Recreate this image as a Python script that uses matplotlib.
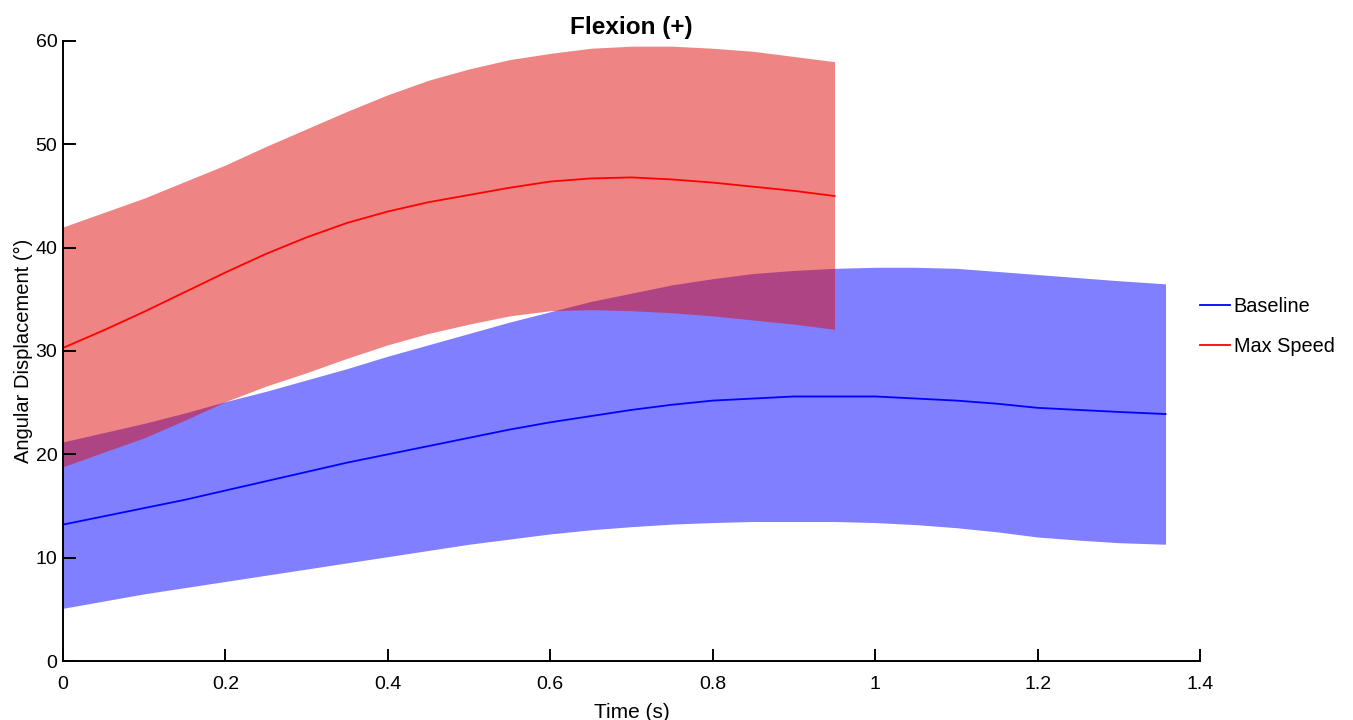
import matplotlib
matplotlib.use("Agg")
import matplotlib.pyplot as plt
from matplotlib.ticker import FuncFormatter

plt.rcParams['font.family'] = ['Liberation Sans', 'DejaVu Sans']

# Baseline series
time_base = [0.0, 0.05, 0.1, 0.15, 0.2, 0.25, 0.3, 0.35, 0.4, 0.45, 0.5, 0.55, 0.6, 0.65,
             0.7, 0.75, 0.8, 0.85, 0.9, 0.95, 1.0, 1.05, 1.1, 1.15, 1.2, 1.25, 1.3, 1.3575]
base_mean = [13.2, 14.0, 14.8, 15.6, 16.5, 17.4, 18.3, 19.2, 20.0, 20.8, 21.6, 22.4, 23.1, 23.7,
             24.3, 24.8, 25.2, 25.4, 25.6, 25.6, 25.6, 25.4, 25.2, 24.9, 24.5, 24.3, 24.1, 23.9]
base_upper = [21.2, 22.1, 23.0, 24.0, 25.1, 26.1, 27.2, 28.3, 29.5, 30.6, 31.7, 32.8, 33.8, 34.8,
              35.6, 36.4, 37.0, 37.5, 37.8, 38.0, 38.1, 38.1, 38.0, 37.7, 37.4, 37.1, 36.8, 36.5]
base_lower = [5.1, 5.8, 6.5, 7.1, 7.7, 8.3, 8.9, 9.5, 10.1, 10.7, 11.3, 11.8, 12.3, 12.7,
              13.0, 13.25, 13.4, 13.5, 13.5, 13.5, 13.4, 13.2, 12.9, 12.5, 12.0, 11.7, 11.45, 11.3]

# Max Speed series
time_max = [0.0, 0.05, 0.1, 0.15, 0.2, 0.25, 0.3, 0.35, 0.4, 0.45, 0.5, 0.55, 0.6, 0.65,
            0.7, 0.75, 0.8, 0.85, 0.9, 0.95]
max_mean = [30.3, 32.0, 33.8, 35.7, 37.6, 39.4, 41.0, 42.4, 43.5, 44.4, 45.1, 45.8, 46.4, 46.7,
            46.8, 46.6, 46.3, 45.9, 45.5, 45.0]
max_upper = [42.0, 43.4, 44.8, 46.4, 48.0, 49.8, 51.5, 53.2, 54.8, 56.2, 57.3, 58.2, 58.8, 59.3,
             59.5, 59.5, 59.3, 59.0, 58.5, 58.0]
max_lower = [18.8, 20.2, 21.6, 23.3, 25.1, 26.6, 27.9, 29.3, 30.6, 31.7, 32.6, 33.4, 33.9, 34.0,
             33.9, 33.7, 33.4, 33.0, 32.6, 32.1]

x_ticks = [0, 0.2, 0.4, 0.6, 0.8, 1.0, 1.2, 1.4]
y_ticks = [0, 10, 20, 30, 40, 50, 60]

fig = plt.figure(figsize=(13.53, 7.2), dpi=100)
ax = fig.add_axes([63/1353, 1-661/720, (1200-63)/1353, (661-41)/720])

ax.fill_between(time_base, base_lower, base_upper, color=(0, 0, 1), alpha=0.5, linewidth=0)
ax.fill_between(time_max, max_lower, max_upper, color=(0.88, 0.04, 0.04), alpha=0.5, linewidth=0)
ax.plot(time_base, base_mean, color=(0, 0, 1), lw=1.3, label='Baseline')
ax.plot(time_max, max_mean, color=(1, 0, 0), lw=1.3, label='Max Speed')

ax.set_xlim(0, 1.4)
ax.set_ylim(0, 60)
ax.set_xticks(x_ticks)
ax.set_yticks(y_ticks)
ax.xaxis.set_major_formatter(FuncFormatter(lambda v, p: f"{v:g}"))
ax.yaxis.set_major_formatter(FuncFormatter(lambda v, p: f"{v:g}"))
ax.tick_params(direction='in', length=9, width=1.4, labelsize=14)
ax.tick_params(axis='x', pad=10.5)
ax.tick_params(axis='y', pad=4)
for s in ['top', 'right']:
    ax.spines[s].set_visible(False)
for s in ['left', 'bottom']:
    ax.spines[s].set_linewidth(1.4)

ax.set_xlabel('Time (s)', fontsize=15, labelpad=7.5)
ax.set_ylabel('Angular Displacement (°)', fontsize=14.5, labelpad=2)
ax.set_title('Flexion (+)', fontsize=17.5, fontweight='bold', pad=5)

leg = ax.legend(loc='center left', bbox_to_anchor=(1.0, 0.54), frameon=False,
                fontsize=14.3, handlelength=1.5, handletextpad=0.2, labelspacing=1.05,
                borderaxespad=0, borderpad=0)

fig.savefig('out.png', dpi=100)
